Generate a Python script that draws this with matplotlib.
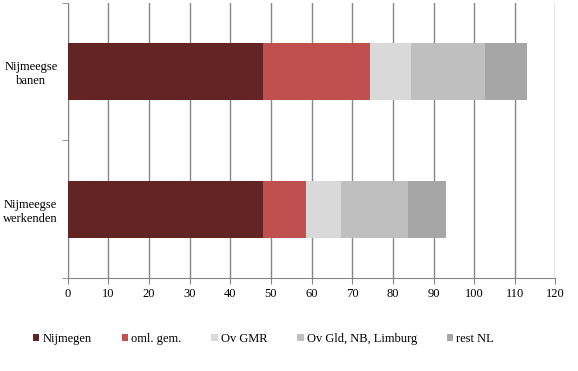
import matplotlib
matplotlib.use("Agg")
import matplotlib.pyplot as plt
import numpy as np

categories = ["Nijmeegse\nwerkenden", "Nijmeegse\nbanen"]
series = ["Nijmegen", "oml. gem.", "Ov GMR", "Ov Gld, NB, Limburg", "rest NL"]
nijmegen = [48.1, 48.1]
oml_gem = [10.5, 26.3]
ov_gmr = [8.7, 10.1]
ov_gld_nb_limburg = [16.5, 18.2]
rest_nl = [9.2, 10.3]
colors = ["#632523", "#C0504D", "#D9D9D9", "#BFBFBF", "#A6A6A6"]
xticks = list(range(0, 121, 10))

plt.rcParams["font.family"] = ["Liberation Serif", "DejaVu Serif"]

fig = plt.figure(figsize=(5.78, 3.71), dpi=100)
ax = fig.add_axes([0.117, 0.2507, 0.844, 0.7413])

y = np.arange(len(categories))
left = np.zeros(len(categories))
for name, vals, col in zip(series,
                           [nijmegen, oml_gem, ov_gmr, ov_gld_nb_limburg, rest_nl],
                           colors):
    ax.barh(y, vals, left=left, height=0.416, color=col, label=name, zorder=3)
    left += np.array(vals)

ax.set_xlim(0, 120)
ax.set_ylim(-0.5, 1.5)
ax.set_xticks(xticks)
ax.set_xticklabels([str(t) for t in xticks], fontsize=9)
ax.set_yticks(y)
ax.set_yticklabels(categories, fontsize=9, multialignment="center")
ax.set_yticks([-0.5, 0.5, 1.5], minor=True)
ax.tick_params(axis="y", which="major", length=0, pad=7)
ax.tick_params(axis="y", which="minor", length=4, color="#868686")
ax.tick_params(axis="x", length=4, color="#868686", pad=3)
ax.grid(True, axis="x", color="#868686", linewidth=1, zorder=0)
for s in ["top", "right"]:
    ax.spines[s].set_visible(False)
for s in ["left", "bottom"]:
    ax.spines[s].set_color("#868686")

fig.legend(loc="center", bbox_to_anchor=(0.456, 0.086), ncol=5, frameon=False,
           fontsize=9, handlelength=0.5, handleheight=0.5, handletextpad=0.25,
           columnspacing=2.4)

fig.savefig("out.png", dpi=100)
